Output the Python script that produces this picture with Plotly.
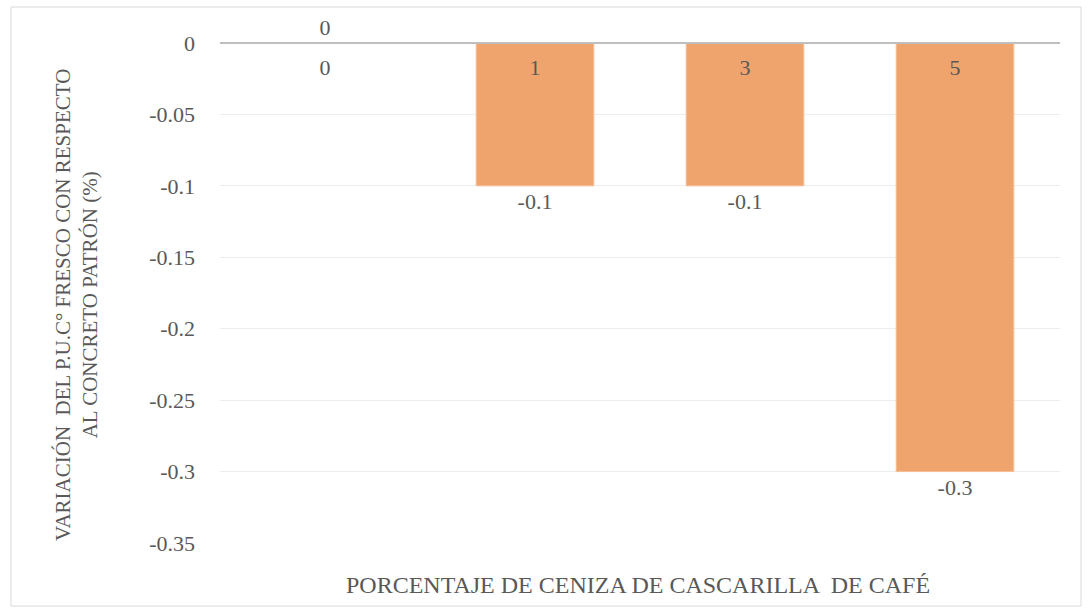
import plotly.graph_objects as go

# Porcentaje de ceniza de cascarilla de café (%) y variación del P.U.C° fresco
categorias = ["0", "1", "3", "5"]
variacion = [0, -0.1, -0.1, -0.3]

y_ticks = [0, -0.05, -0.1, -0.15, -0.2, -0.25, -0.3, -0.35]
y_tick_labels = ["0", "-0.05", "-0.1", "-0.15", "-0.2", "-0.25", "-0.3", "-0.35"]

titulo_x = "PORCENTAJE DE CENIZA DE CASCARILLA  DE CAFÉ"
titulo_y = "VARIACIÓN  DEL P.U.C° FRESCO CON RESPECTO<br>AL CONCRETO PATRÓN (%)"

FONT = "Liberation Serif, Times New Roman, serif"
GRIS = "#595959"

fig = go.Figure()
fig.add_trace(go.Bar(
    x=categorias,
    y=variacion,
    marker=dict(color="#F0A46D", line=dict(color="#F5BE94", width=1)),
    width=0.56,
    text=[f"{v:g}" for v in variacion],
    textposition="outside",
    textfont=dict(family=FONT, size=22, color=GRIS),
    cliponaxis=False,
    hoverinfo="x+y",
))

fig.update_layout(
    width=1092, height=610,
    margin=dict(l=220, r=32, t=43, b=67),
    paper_bgcolor="white", plot_bgcolor="white",
    showlegend=False,
    font=dict(family=FONT, color=GRIS),
    xaxis=dict(
        type="category",
        anchor="free", position=1, side="bottom",
        showline=True, linecolor="#BFBFBF", linewidth=2,
        showgrid=False, ticks="",
        ticklabelstandoff=5,
        tickfont=dict(family=FONT, size=22, color=GRIS),
    ),
    yaxis=dict(
        range=[-0.35, 0],
        tickvals=y_ticks, ticktext=y_tick_labels,
        showgrid=True, gridcolor="#EDEDED", gridwidth=1,
        zeroline=False, showline=False, ticks="",
        ticklabelstandoff=24,
        tickfont=dict(family=FONT, size=22, color=GRIS),
    ),
    annotations=[
        dict(text=titulo_x, xref="paper", yref="paper", x=0.4976, y=-0.084,
             showarrow=False, xanchor="center", yanchor="middle",
             font=dict(family=FONT, size=24, color=GRIS)),
        dict(text=titulo_y, xref="paper", yref="paper", x=-0.1714, y=0.476,
             showarrow=False, xanchor="center", yanchor="middle", textangle=-90,
             font=dict(family=FONT, size=21, color=GRIS)),
    ],
    shapes=[
        dict(type="rect", xref="paper", yref="paper",
             x0=-0.2488, x1=1.025, y0=-0.126, y1=1.072,
             line=dict(color="#D9D9D9", width=1), fillcolor="rgba(0,0,0,0)",
             layer="below"),
    ],
)

fig.write_html("out.html")
